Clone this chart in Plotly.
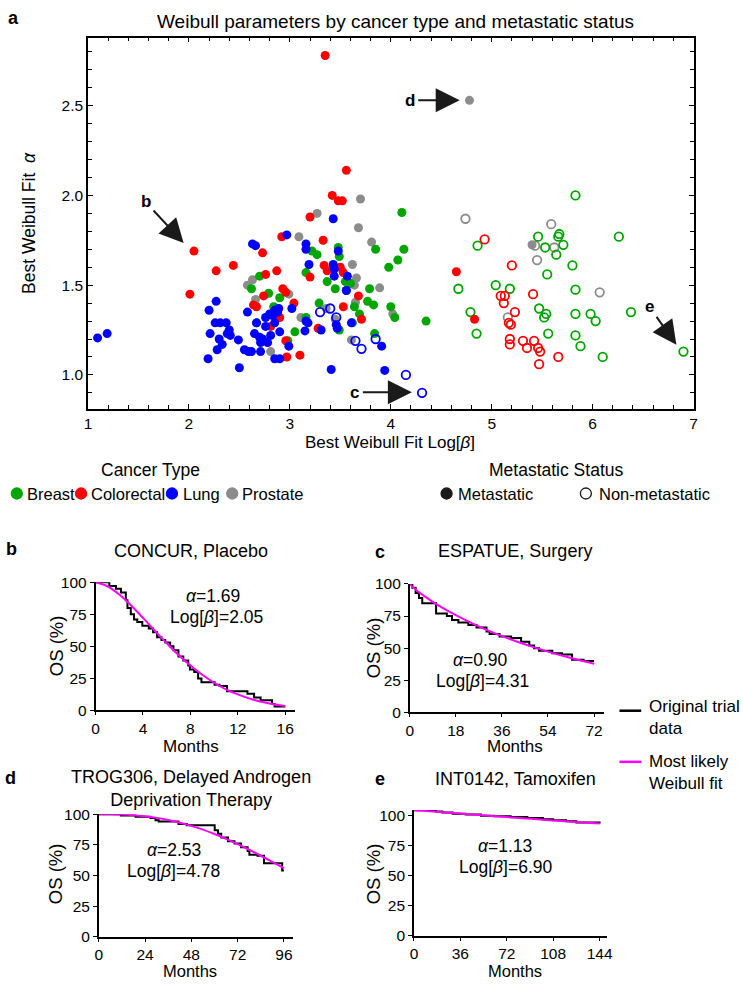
import plotly.graph_objects as go

W, H = 743, 988


def fx(p):
    return p / W


def fy(p):
    return 1 - p / H


# ---- panel a: Weibull parameters (log beta, alpha) ----
breast_met_x = [2.70, 2.62, 2.79, 2.90, 2.84, 2.67, 3.05, 2.98, 3.16, 3.29, 3.16, 3.37, 3.22, 3.27, 3.48, 3.49,
                3.45, 3.55, 3.56, 3.60, 3.79, 3.77, 3.83, 3.64, 3.69, 3.62, 3.49, 3.84, 3.85, 4.13, 4.11, 4.07,
                3.98, 4.00, 4.04, 4.35]
breast_met_y = [1.55, 1.48, 1.455, 1.43, 1.38, 1.29, 1.24, 1.19, 1.57, 1.40, 1.32, 1.52, 1.69, 1.67, 1.71, 1.66,
                1.48, 1.52, 1.47, 1.51, 1.48, 1.41, 1.39, 1.38, 1.34, 1.29, 1.25, 1.23, 1.70, 1.70, 1.905, 1.64,
                1.60, 1.38, 1.32, 1.30]
breast_non_x = [4.86, 4.67, 4.79, 4.85, 5.04, 5.18, 5.46, 5.53, 5.66, 5.67, 5.71, 5.64, 5.55, 5.80, 5.83, 5.47,
                5.54, 5.52, 5.83, 5.56, 5.83, 5.88, 5.98, 6.03, 6.10, 6.26, 6.38, 6.90, 5.83]
breast_non_y = [1.72, 1.48, 1.35, 1.23, 1.50, 1.48, 1.77, 1.71, 1.77, 1.785, 1.725, 1.67, 1.56, 1.61, 1.475, 1.37,
                1.34, 1.32, 1.34, 1.23, 1.22, 1.16, 1.34, 1.30, 1.10, 1.77, 1.35, 1.13, 2.00]

colo_met_x = [3.35, 3.56, 3.42, 3.48, 3.52, 3.20, 2.92, 3.33, 2.73, 2.05, 2.01, 2.27, 2.44, 2.76, 2.87, 2.64,
              2.67, 2.74, 2.81, 2.93, 2.96, 3.04, 2.90, 2.96, 2.97, 3.10, 3.20, 3.28, 3.34, 3.37, 3.43, 3.50,
              3.53, 3.68, 3.53, 3.71, 4.65, 4.83]
colo_met_y = [2.78, 2.14, 2.00, 1.97, 1.97, 1.88, 1.77, 1.75, 1.68, 1.69, 1.45, 1.58, 1.61, 1.56, 1.58, 1.39,
              1.38, 1.44, 1.27, 1.48, 1.46, 1.40, 1.32, 1.19, 1.10, 1.11, 1.545, 1.26, 1.61, 1.58, 1.59, 1.60,
              1.57, 1.44, 1.38, 1.31, 1.575, 1.31]
colo_non_x = [4.93, 5.20, 5.09, 5.13, 5.12, 5.23, 5.17, 5.19, 5.18, 5.18, 5.31, 5.35, 5.42, 5.46, 5.48, 5.47,
              5.41, 5.66]
colo_non_y = [1.755, 1.61, 1.44, 1.44, 1.40, 1.35, 1.29, 1.28, 1.20, 1.17, 1.19, 1.15, 1.19, 1.15, 1.13, 1.06,
              1.45, 1.10]

lung_met_x = [1.095, 1.19, 2.27, 2.20, 2.26, 2.31, 2.37, 2.40, 2.38, 2.41, 2.21, 2.30, 2.33, 2.49, 2.28, 2.19,
              2.50, 2.55, 2.59, 2.62, 2.71, 2.58, 2.67, 2.65, 2.70, 2.73, 2.71, 2.78, 2.76, 2.80, 2.83, 2.85,
              2.88, 2.89, 2.76, 2.81, 2.85, 2.90, 2.85, 2.90, 2.99, 3.02, 3.16, 3.18, 3.15, 3.31, 3.19, 3.16,
              3.16, 2.97, 2.63, 2.66, 3.43, 3.48, 3.43, 3.44, 3.44, 3.57, 3.56, 3.46, 3.47, 3.61, 3.41, 3.91,
              3.94]
lung_met_y = [1.206, 1.23, 1.41, 1.36, 1.29, 1.29, 1.29, 1.25, 1.23, 1.22, 1.23, 1.20, 1.17, 1.195, 1.14, 1.09,
              1.04, 1.14, 1.13, 1.13, 1.13, 1.35, 1.29, 1.23, 1.21, 1.20, 1.18, 1.18, 1.32, 1.34, 1.33, 1.36,
              1.35, 1.37, 1.27, 1.22, 1.29, 1.24, 1.09, 1.09, 1.16, 1.37, 1.30, 1.29, 1.245, 1.25, 1.615, 1.73,
              1.70, 1.78, 1.73, 1.72, 1.87, 1.69, 1.615, 1.59, 1.55, 1.55, 1.47, 1.28, 1.26, 1.29, 1.03, 1.16,
              1.025]
lung_non_x = [3.30, 3.40, 3.46, 3.65, 3.71, 3.85, 4.15, 4.31]
lung_non_y = [1.35, 1.37, 1.32, 1.19, 1.145, 1.20, 1.00, 0.90]

pros_met_x = [4.78, 3.70, 3.27, 3.68, 3.09, 3.81, 3.62, 3.66, 3.64, 2.58, 2.63, 2.66, 2.99, 3.11, 2.81, 3.36,
              3.45, 3.61, 3.65, 3.89, 4.02, 5.40]
pros_met_y = [2.53, 1.98, 1.90, 1.82, 1.77, 1.74, 1.615, 1.54, 1.50, 1.50, 1.53, 1.42, 1.45, 1.32, 1.13, 1.37,
              1.31, 1.195, 1.405, 1.485, 1.34, 1.725]
pros_non_x = [4.74, 5.43, 5.45, 5.59, 5.62, 6.07, 5.16]
pros_non_y = [1.87, 1.72, 1.64, 1.84, 1.71, 1.46, 1.32]

cancer_types = ["Breast", "Colorectal", "Lung", "Prostate"]
type_colors = ["#00A600", "#FF0000", "#0000FF", "#8C8C8C"]
status_labels = ["Metastatic", "Non-metastatic"]

# ---- Kaplan-Meier panels (months, OS %) ----
b_km_t = [0, 1.16, 1.72, 2.14, 2.55, 2.69, 2.97, 3.24, 3.52, 3.94, 4.49, 4.85, 5.19, 5.55, 5.88, 6.29, 6.57,
          6.99, 7.40, 7.82, 7.96, 8.32, 8.65, 8.93, 10.04, 10.45, 11.09, 12.81, 13.37, 13.92, 14.89, 15.1, 16.0]
b_km_s = [100, 97, 95, 92, 86, 80, 75, 71, 69, 66, 64, 61, 57, 55, 53, 50, 47, 42, 39, 35, 32, 30, 25, 22, 20,
          19, 15, 13, 10, 8, 5, 3, 3]
b_fit_t = [0, 1, 2, 3, 4, 5, 6, 7, 8, 9, 10, 11, 12, 13, 14, 15, 16]
b_fit_s = [100, 96.9, 90.4, 81.9, 72.2, 62.2, 52.4, 43.2, 35.0, 27.8, 21.6, 16.5, 12.5, 9.2, 6.7, 4.8, 3.4]

c_km_t = [0, 1.03, 2.31, 3.6, 4.89, 10.3, 14.5, 16.5, 19.0, 22.9, 26.1, 30.0, 31.2, 35.1, 39.6, 43.5, 46.7,
          48.6, 50.5, 55.7, 59.5, 63.4, 67.9, 72]
c_km_s = [100, 97, 93, 89, 85, 77, 75, 72, 70, 68, 66, 63, 61, 59, 58, 55, 52, 50, 48, 46, 45, 41, 40, 40]
c_fit_t = [0, 1, 3, 6, 9, 12, 18, 24, 30, 36, 42, 48, 54, 60, 66, 72]
c_fit_s = [100, 97.9, 94.5, 90.1, 86.1, 82.4, 75.7, 69.7, 64.3, 59.4, 55.0, 51.0, 47.3, 43.9, 40.8, 37.9]

d_km_t = [0, 11.4, 19.1, 26.8, 29.4, 31.1, 41.3, 45.6, 60.1, 61.8, 63.5, 67.0, 70.4, 73.8, 77.2, 78.1, 82.3,
          85.7, 95.1, 96]
d_km_s = [100, 99, 98, 97, 95, 94, 92, 91, 87, 84, 81, 78, 76, 73, 70, 67, 66, 60, 54, 54]
d_fit_t = [0, 6, 12, 18, 24, 30, 36, 42, 48, 54, 60, 66, 72, 78, 84, 90, 96]
d_fit_s = [100, 100, 99.7, 99.2, 98.3, 97.0, 95.3, 93.1, 90.5, 87.4, 83.8, 79.9, 75.6, 71.0, 66.1, 61.1, 56.0]

e_km_t = [0, 17, 22, 30, 40, 52, 62, 75, 88, 100, 108, 118, 126, 144]
e_km_s = [104.2, 103.3, 102.4, 101.4, 100.8, 99.8, 99.3, 98.6, 97.8, 96.8, 95.9, 95.1, 94.1, 93.3]
e_fit_t = [0, 12, 24, 36, 48, 60, 72, 84, 96, 108, 120, 132, 144]
e_fit_s = [104.2, 103.5, 102.5, 101.5, 100.5, 99.5, 98.6, 97.6, 96.7, 95.8, 94.9, 94.0, 93.2]

FONT = "Arial, Liberation Sans, sans-serif"

fig = go.Figure()

groups = [
    (3, 0, pros_met_x, pros_met_y), (3, 1, pros_non_x, pros_non_y),
    (0, 0, breast_met_x, breast_met_y), (0, 1, breast_non_x, breast_non_y),
    (1, 0, colo_met_x, colo_met_y), (1, 1, colo_non_x, colo_non_y),
    (2, 0, lung_met_x, lung_met_y), (2, 1, lung_non_x, lung_non_y),
]
for ci, st, gx, gy in groups:
    fig.add_trace(go.Scatter(
        x=gx, y=gy, mode="markers", showlegend=False,
        name=cancer_types[ci] + " " + status_labels[st],
        marker=dict(
            symbol="circle" if st == 0 else "circle-open",
            size=9 if st == 0 else 8.5,
            color=type_colors[ci],
            line=dict(width=1.8 if st == 1 else 0, color=type_colors[ci]),
        ),
        xaxis="x", yaxis="y",
    ))

panels = [
    ("x2", "y2", b_km_t, b_km_s, b_fit_t, b_fit_s),
    ("x3", "y3", c_km_t, c_km_s, c_fit_t, c_fit_s),
    ("x4", "y4", d_km_t, d_km_s, d_fit_t, d_fit_s),
    ("x5", "y5", e_km_t, e_km_s, e_fit_t, e_fit_s),
]
for xa, ya, kt, ks, ft, fs in panels:
    fig.add_trace(go.Scatter(x=kt, y=ks, mode="lines", line=dict(color="black", width=2, shape="hv"),
                             showlegend=False, cliponaxis=False, xaxis=xa, yaxis=ya))
    fig.add_trace(go.Scatter(x=ft, y=fs, mode="lines", line=dict(color="#FF00FF", width=2, shape="spline"),
                             showlegend=False, cliponaxis=False, xaxis=xa, yaxis=ya))

axis_common = dict(showline=True, linecolor="black", linewidth=1.5, showgrid=False, zeroline=False,
                   tickcolor="black", tickfont=dict(family=FONT, size=15.5, color="black"))

fig.update_layout(
    xaxis=dict(domain=[fx(85), fx(698)], range=[1, 7], tickvals=[1, 2, 3, 4, 5, 6, 7], ticks="inside",
               ticklen=5, mirror="allticks",
               minor=dict(ticks="inside", ticklen=4, dtick=0.2, tick0=1, tickcolor="black"),
               anchor="y", **axis_common),
    yaxis=dict(domain=[fy(407), fy(29)], range=[0.81, 2.88], tickvals=[1.0, 1.5, 2.0, 2.5], tickformat=".1f",
               ticks="inside", ticklen=5, mirror="allticks",
               minor=dict(ticks="inside", ticklen=4, dtick=0.1, tick0=1, tickcolor="black"),
               anchor="x", **axis_common),
)

km_axes = [
    ("xaxis2", "yaxis2", "x2", "y2", [92.7, 294.3], [583.3, 713.7], [0, 16.8], [0, 4, 8, 12, 16], [0, 100]),
    ("xaxis3", "yaxis3", "x3", "y3", [410.7, 607.3], [585, 715.7], [0, 75.85], [0, 18, 36, 54, 72], [0, 100]),
    ("xaxis4", "yaxis4", "x4", "y4", [96, 292.7], [819.3, 944], [0, 100.8], [0, 24, 48, 72, 96], [0, 100]),
    ("xaxis5", "yaxis5", "x5", "y5", [415, 610.7], [815, 943], [0, 150], [0, 36, 72, 108, 144], [0, 104.5]),
]
for xk, yk, xn, yn, xd, yd, xr, xt, yr in km_axes:
    fig.update_layout(**{
        xk: dict(domain=[fx(xd[0]), fx(xd[1])], range=xr, tickvals=xt, ticks="outside", ticklen=3,
                 anchor=yn, **axis_common),
        yk: dict(domain=[fy(yd[1]), fy(yd[0])], range=yr, tickvals=[0, 25, 50, 75, 100], ticks="outside",
                 ticklen=4, anchor=xn, **axis_common),
    })

ann = []


def text(t, x, y, size=17, bold=False, angle=0, xanchor="center", align="center"):
    ann.append(dict(text="<b>%s</b>" % t if bold else t, x=fx(x), y=fy(y), xref="paper", yref="paper",
                    showarrow=False, xanchor=xanchor, yanchor="middle", textangle=angle, align=align,
                    font=dict(family=FONT, size=size, color="black")))


# panel a texts
text("a", 10, 9, 18, bold=True)
text("Weibull parameters by cancer type and metastatic status", 396, 13, 19)
text("Best Weibull Fit Log[<i>β</i>]", 391, 441, 17)
text("Best Weibull Fit  <i>α</i>", 26, 218, 17.5, angle=-90)

# arrows to highlighted trials
arrow_pts = [("b", 1.948, 1.735, -38, -41), ("c", 4.209, 0.903, -57, 0),
             ("d", 4.683, 2.53, -50, 0), ("e", 6.83, 1.168, -27, -38)]
for lab, axv, ayv, dx, dy in arrow_pts:
    ann.append(dict(text="<b>%s</b>" % lab, x=axv, y=ayv, xref="x", yref="y", ax=dx, ay=dy,
                    showarrow=True, arrowhead=2, arrowsize=2.4, arrowwidth=2, arrowcolor="#1a1a1a",
                    font=dict(family=FONT, size=17, color="black"), standoff=0, startstandoff=2))

# legends for panel a
text("Cancer Type", 148, 469, 17.5)
text("Metastatic Status", 559, 469, 17.5)
leg_items = [(13, 21, "Breast", type_colors[0], True), (78, 86, "Colorectal", type_colors[1], True),
             (170, 179, "Lung", type_colors[2], True), (231, 239, "Prostate", type_colors[3], True),
             (448, 458, "Metastatic", "#1a1a1a", True), (589, 600, "Non-metastatic", "#1a1a1a", False)]
shapes = []
for cx, tx, lab, col, filled in leg_items:
    text(lab, tx, 493, 16.5, xanchor="left")
    shapes.append(dict(type="circle", xref="paper", yref="paper", xsizemode="pixel", ysizemode="pixel",
                       xanchor=fx(cx), yanchor=fy(493), x0=-5.5, x1=5.5, y0=-5.5, y1=5.5,
                       fillcolor=col if filled else "white", line=dict(color=col, width=1.3)))

# KM panel texts
text("b", 8, 549, 18, bold=True)
text("CONCUR, Placebo", 189.5, 551, 18)
text("OS (%)", 53, 648, 18.5, angle=-90)
text("Months", 189, 750, 17)
text("<i>α</i>=1.69", 212, 597, 17.5)
text("Log[<i>β</i>]=2.05", 215, 619, 17.5)

text("c", 381, 553, 18, bold=True)
text("ESPATUE, Surgery", 517.5, 551, 18)
text("OS (%)", 374, 650, 18.5, angle=-90)
text("Months", 517, 750, 17)
text("<i>α</i>=0.90", 482, 662, 17.5)
text("Log[<i>β</i>]=4.31", 484, 684, 17.5)

text("d", 7, 782, 18, bold=True)
text("TROG306, Delayed Androgen<br>Deprivation Therapy", 189, 793, 18)
text("OS (%)", 53, 880, 18.5, angle=-90)
text("Months", 188, 978.5, 16.5)
text("<i>α</i>=2.53", 172, 856, 17.5)
text("Log[<i>β</i>]=4.78", 172, 877, 17.5)

text("e", 381, 783, 18, bold=True)
text("INT0142, Tamoxifen", 518, 783, 18)
text("OS (%)", 374, 880, 18.5, angle=-90)
text("Months", 517, 978.5, 16.5)
text("<i>α</i>=1.13", 507, 852, 17.5)
text("Log[<i>β</i>]=6.90", 508, 873, 17.5)

# KM legend
shapes.append(dict(type="line", xref="paper", yref="paper", x0=fx(623), x1=fx(645), y0=fy(714), y1=fy(714),
                   line=dict(color="black", width=2.5)))
shapes.append(dict(type="line", xref="paper", yref="paper", x0=fx(623), x1=fx(645), y0=fy(766), y1=fy(766),
                   line=dict(color="#FF00FF", width=2.5)))
text("Original trial<br>data", 651, 721, 17, xanchor="left", align="left")
text("Most likely<br>Weibull fit", 651, 777, 17, xanchor="left", align="left")

fig.update_layout(
    width=W, height=H, autosize=False,
    margin=dict(l=0, r=0, t=0, b=0),
    paper_bgcolor="white", plot_bgcolor="white",
    font=dict(family=FONT, color="black"),
    annotations=ann, shapes=shapes, showlegend=False,
)

fig.write_html("out.html", config={"displayModeBar": False},
               post_script="document.body.style.margin='0px';document.body.style.overflow='hidden';")
